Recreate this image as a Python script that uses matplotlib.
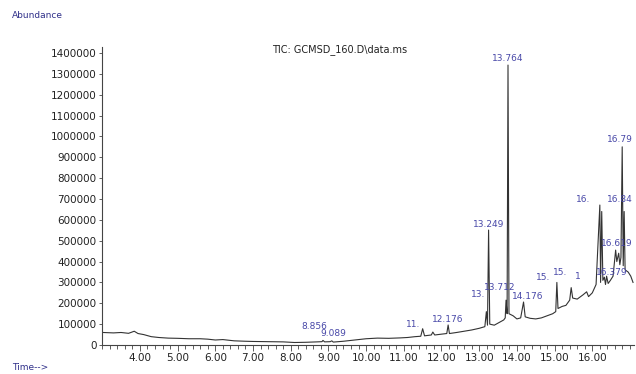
import matplotlib
matplotlib.use("Agg")
import matplotlib.pyplot as plt
from matplotlib.ticker import MultipleLocator, FormatStrFormatter

# Trace (retention time in min, abundance)
rt = [3.02, 3.3, 3.5, 3.7, 3.85, 3.95, 4.1, 4.3, 4.5, 4.75, 5.0, 5.3, 5.6, 5.8,
      6.0, 6.2, 6.5, 6.8, 7.0, 7.4, 7.8, 8.1, 8.4, 8.7, 8.83, 8.856, 8.9,
      9.05, 9.089, 9.13, 9.4, 9.7, 10.0, 10.3, 10.6, 10.9, 11.1, 11.3, 11.45,
      11.5, 11.55, 11.73, 11.77, 11.82, 12.0, 12.14, 12.176, 12.21, 12.4,
      12.6, 12.8, 13.0, 13.15, 13.19, 13.22, 13.249, 13.28, 13.4, 13.55,
      13.65, 13.69, 13.712, 13.74, 13.764, 13.79, 13.9, 14.0, 14.1, 14.176,
      14.22, 14.35, 14.5, 14.65, 14.8, 14.95, 15.03, 15.06, 15.09, 15.2, 15.3,
      15.4, 15.44, 15.48, 15.6, 15.75, 15.85, 15.9, 16.0, 16.1, 16.2, 16.22,
      16.25, 16.28, 16.32, 16.35, 16.379, 16.42, 16.48, 16.55, 16.6, 16.619,
      16.65, 16.7, 16.73, 16.76, 16.793, 16.82, 16.845, 16.87, 16.95, 17.02,
      17.08]
abundance = [60000, 58000, 60000, 56000, 66000, 55000, 50000, 40000, 36000,
             33000, 32000, 30000, 30000, 28000, 24000, 26000, 20000, 18000,
             17000, 16000, 15000, 12000, 13000, 15000, 16000, 22000, 15000,
             16000, 20000, 14000, 18000, 24000, 30000, 33000, 32000, 34000,
             36000, 40000, 42000, 78000, 44000, 48000, 62000, 48000, 52000,
             55000, 96000, 55000, 60000, 66000, 72000, 80000, 88000, 160000,
             95000, 551000, 100000, 95000, 110000, 120000, 130000, 215000,
             150000, 1342000, 150000, 140000, 125000, 130000, 206000, 135000,
             128000, 125000, 130000, 140000, 150000, 160000, 300000, 175000,
             185000, 190000, 215000, 275000, 225000, 220000, 240000, 255000,
             232000, 250000, 290000, 671000, 300000, 640000, 310000, 325000,
             290000, 330000, 295000, 310000, 330000, 420000, 455000, 400000,
             440000, 385000, 420000, 950000, 380000, 640000, 360000, 350000,
             330000, 300000]

# Labelled peaks
peak_rt = [8.856, 9.089, 11.5, 12.176, 13.19, 13.249, 13.712, 13.764, 14.176,
           15.06, 15.44, 15.85, 16.379, 16.2, 16.619, 16.845, 16.793]
peak_height = [22000, 20000, 78000, 96000, 160000, 551000, 215000, 1342000,
               206000, 300000, 275000, 255000, 330000, 671000, 455000,
               640000, 950000]
peak_text = ["8.856", "9.089", "11.", "12.176", "13.", "13.249", "13.712",
             "13.764", "14.176", "15.", "15.", "1", "16.379", "16.",
             "16.619", "16.84", "16.79"]

# label placement relative to the peak top, in pixels
label_offsets = [(-9, 14), (2, 7), (-10, 4), (0, 5), (-8, 17), (0, 6),
                 (-6, 13), (0, 7), (4, 6), (-14, 5), (-11, 15), (-9, 15),
                 (5, 4), (-17, 6), (1, 7), (-4, 12), (-2, 7)]

fig = plt.figure(figsize=(6.36, 3.74), dpi=100)
ax = fig.add_axes([102 / 636, 29 / 374, 532 / 636, 298 / 374])

ax.plot(rt, abundance, color="#333333", linewidth=0.8)

# Peak labels
for t, h, s, off in zip(peak_rt, peak_height, peak_text, label_offsets):
    ax.annotate(s, xy=(t, h), xytext=off, textcoords="offset pixels",
                ha="center", va="center", fontsize=6.5, color="#4848a8",
                annotation_clip=False)

ax.set_xlim(2.995, 17.106)
ax.set_ylim(0, 1428600)

# Axis styling
for side in ["top", "right"]:
    ax.spines[side].set_visible(False)
for side in ["left", "bottom"]:
    ax.spines[side].set_color("#444444")
    ax.spines[side].set_linewidth(0.8)

ax.xaxis.set_major_locator(MultipleLocator(1.0))
ax.xaxis.set_minor_locator(MultipleLocator(0.2))
ax.xaxis.set_major_formatter(FormatStrFormatter("%.2f"))
ax.set_xticks([4 + i for i in range(13)])
ax.yaxis.set_major_locator(MultipleLocator(100000))
ax.yaxis.set_major_formatter(FormatStrFormatter("%d"))

ax.tick_params(axis="x", which="major", length=4, width=0.6, pad=2,
               labelsize=7.5, colors="#444444", labelcolor="#222222")
ax.tick_params(axis="x", which="minor", length=3, width=0.6, colors="#444444")
ax.tick_params(axis="y", which="major", length=2, width=0.6, pad=2,
               labelsize=7.5, colors="#444444", labelcolor="#222222")

# Header and axis captions
fig.text(340 / 636, 1 - 50 / 374, "TIC: GCMSD_160.D\\data.ms", ha="center",
         va="center", fontsize=7, color="#222222")
fig.text(12 / 636, 1 - 16 / 374, "Abundance", ha="left", va="center",
         fontsize=6.5, color="#30308a")
fig.text(12 / 636, 1 - 368 / 374, "Time-->", ha="left", va="center",
         fontsize=6.5, color="#30308a")

fig.savefig("out.png", dpi=100)
